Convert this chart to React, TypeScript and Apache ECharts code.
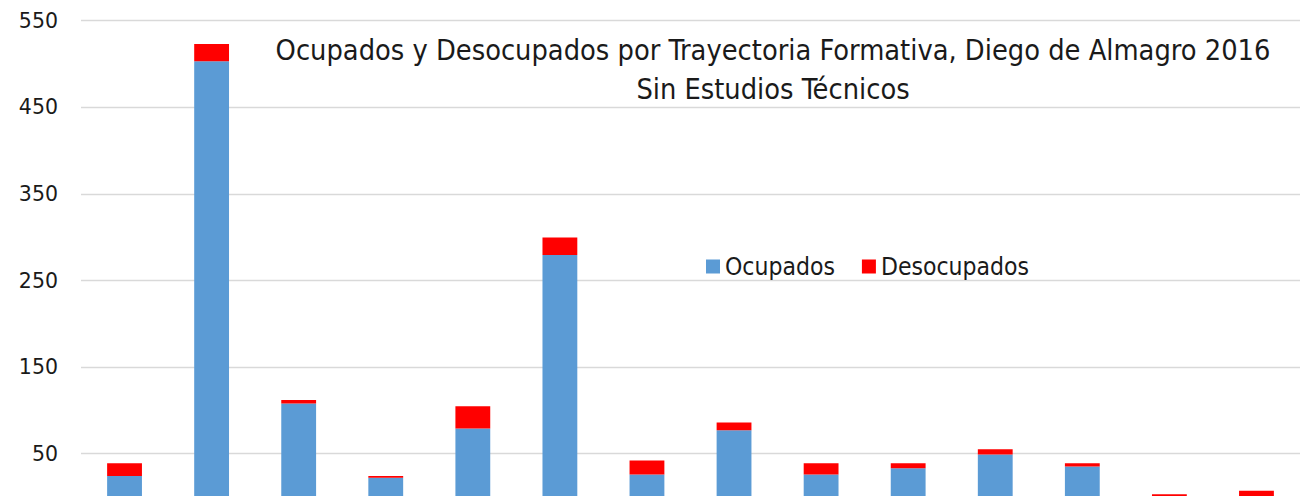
import React, { useEffect, useRef } from "react";
import * as echarts from "echarts";

const categories = [
  "Trayectoria 1", "Trayectoria 2", "Trayectoria 3", "Trayectoria 4", "Trayectoria 5",
  "Trayectoria 6", "Trayectoria 7", "Trayectoria 8", "Trayectoria 9", "Trayectoria 10",
  "Trayectoria 11", "Trayectoria 12", "Trayectoria 13", "Trayectoria 14",
];
const ocupados = [23, 503, 107, 21, 78, 279, 25, 76, 25, 32, 48, 34, 0, 0];
const desocupados = [15, 20, 4, 2, 26, 20, 16, 9, 13, 6, 6, 4, 2, 6];
const tickMin = 50;
const tickMax = 550;
const tickStep = 100;
const titleLines = [
  "Ocupados y Desocupados por Trayectoria Formativa, Diego de Almagro 2016",
  "Sin Estudios Técnicos",
];

export default function App() {
  const ref = useRef<HTMLDivElement>(null);
  useEffect(() => {
    document.body.style.margin = "0";
    const chart = echarts.init(ref.current!, null, { renderer: "svg" });
    const pxPerUnit = 433 / (tickMax - tickMin);
    const font = "'DejaVu Sans Condensed', sans-serif";
    chart.setOption({
      animation: false,
      backgroundColor: "#ffffff",
      title: {
        text: titleLines.join("\n"),
        left: 768,
        top: 25,
        textAlign: "center",
        textStyle: {
          fontFamily: font,
          fontWeight: "normal",
          fontSize: 28.7,
          lineHeight: 39,
          color: "#1a1a1a",
        },
      },
      legend: {
        left: 701,
        top: 249,
        itemWidth: 14,
        itemHeight: 14,
        itemGap: 27,
        icon: "rect",
        textStyle: {
          fontFamily: font,
          fontSize: 24.5,
          color: "#1a1a1a",
        },
        data: ["Ocupados", "Desocupados"],
      },
      grid: [
        { left: 81, top: 20.7, width: 1225.6, height: tickMax * pxPerUnit, containLabel: false },
        { left: 81, top: 20.7, width: 1225.6, height: 433, containLabel: false },
      ],
      xAxis: [
        {
          type: "category",
          gridIndex: 0,
          data: categories,
          axisLine: { show: false },
          axisTick: { show: false },
          axisLabel: { show: false },
        },
        {
          type: "category",
          gridIndex: 1,
          data: categories,
          show: false,
        },
      ],
      yAxis: [
        {
          type: "value",
          gridIndex: 0,
          min: 0,
          max: tickMax,
          show: false,
          splitLine: { show: false },
        },
        {
          type: "value",
          gridIndex: 1,
          min: tickMin,
          max: tickMax,
          interval: tickStep,
          axisLine: { show: false },
          axisTick: { show: false },
          axisLabel: {
            margin: 23,
            fontFamily: "'DejaVu Sans', sans-serif",
            fontSize: 20.5,
            color: "#1a1a1a",
          },
          splitLine: { lineStyle: { color: "#d9d9d9", width: 1.3 } },
        },
      ],
      series: [
        {
          name: "Ocupados",
          type: "bar",
          stack: "total",
          xAxisIndex: 0,
          yAxisIndex: 0,
          data: ocupados,
          barWidth: "40%",
          itemStyle: { color: "#5B9BD5" },
          z: 3,
        },
        {
          name: "Desocupados",
          type: "bar",
          stack: "total",
          xAxisIndex: 0,
          yAxisIndex: 0,
          data: desocupados,
          barWidth: "40%",
          itemStyle: { color: "#FF0000" },
          z: 3,
        },
      ],
    });
    return () => chart.dispose();
  }, []);
  return <div ref={ref} style={{ width: 1300, height: 496 }} />;
}
